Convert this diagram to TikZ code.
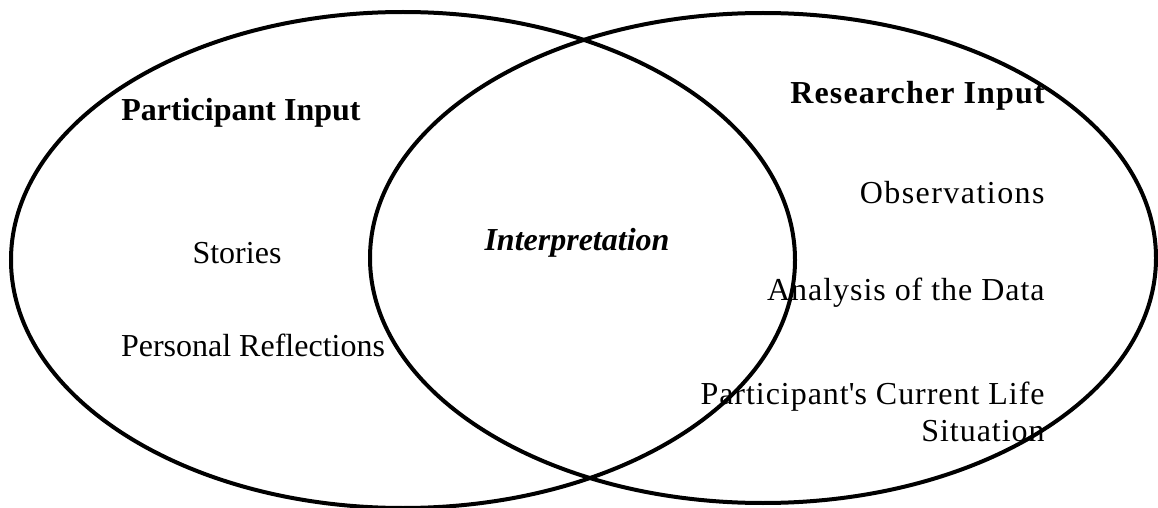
\documentclass[tikz,border=0pt]{standalone}
\usepackage{fontspec}
\setmainfont{Liberation Serif}
\usetikzlibrary{shapes.geometric}
\begin{document}
\begin{tikzpicture}[x=0.5pt,y=-0.5pt,
  circ/.style={draw=black,line width=2pt,ellipse,inner sep=0pt},
  lbl/.style={inner sep=0pt,font=\fontsize{16}{18.5}\selectfont},
  rlbl/.style={lbl,anchor=east,font=\fontsize{16}{18.5}\selectfont\addfontfeature{LetterSpace=#1}},
  head/.style={lbl,font=\fontsize{16}{18.5}\selectfont\bfseries}]
\useasboundingbox (0,0) rectangle (1158,508);
\node[circ,minimum width=392pt,minimum height=248pt] (left) at (403,260) {};
\node[circ,minimum width=393pt,minimum height=245pt] (right) at (763,258) {};
\node[head] (pin) at (241,113) {Participant Input};
\node[lbl] (stories) at (237,253) {Stories};
\node[lbl] (refl) at (253,345) {Personal Reflections};
\node[head,font=\fontsize{16}{18.5}\selectfont\bfseries\itshape] (interp) at (577,243) {Interpretation};
\node[head,anchor=east,font=\fontsize{16}{18.5}\selectfont\bfseries\addfontfeature{LetterSpace=3.5}] (rin) at (1045,96) {Researcher Input};
\node[rlbl=4.5] (obs) at (1045,193) {Observations};
\node[rlbl=3] (ana) at (1045,293) {Analysis of the Data};
\node[rlbl=3,align=right] (life) at (1045,412) {Participant\textquotesingle s Current Life\\Situation};
\end{tikzpicture}
\end{document}
